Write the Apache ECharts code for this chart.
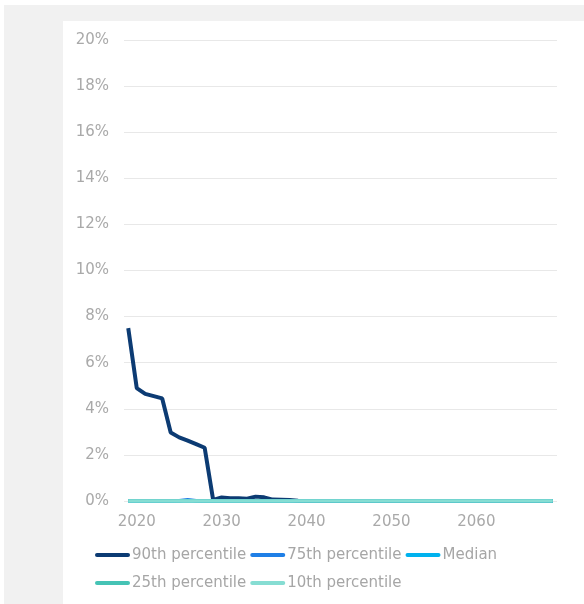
<!DOCTYPE html>
<html>
<head>
<meta charset="utf-8">
<script src="https://cdn.jsdelivr.net/npm/echarts@6/dist/echarts.min.js"></script>
<style>
  body { margin: 0; background: #fff; }
  #frame { position: absolute; left: 4px; top: 5px; width: 580px; height: 599px; background: #f1f1f1; }
  #renderChart { position: absolute; left: 63px; top: 21px; width: 521px; height: 583px; background: #fff; }
</style>
</head>
<body>
<div id="frame"></div>
<div id="renderChart"></div>
<script>
// years on the x axis
const years = [
  '2019', '2020', '2021', '2022', '2023', '2024', '2025', '2026', '2027', '2028',
  '2029', '2030', '2031', '2032', '2033', '2034', '2035', '2036', '2037', '2038',
  '2039', '2040', '2041', '2042', '2043', '2044', '2045', '2046', '2047', '2048',
  '2049', '2050', '2051', '2052', '2053', '2054', '2055', '2056', '2057', '2058',
  '2059', '2060', '2061', '2062', '2063', '2064', '2065', '2066', '2067', '2068',
  '2069'
];

// values in percent
const p90 = [
  7.5, 4.9, 4.65, 4.55, 4.45, 2.97, 2.76, 2.62, 2.47, 2.31,
  0.05, 0.15, 0.12, 0.12, 0.1, 0.19, 0.16, 0.06, 0.05, 0.04,
  0.01, 0, 0, 0, 0, 0, 0, 0, 0, 0,
  0, 0, 0, 0, 0, 0, 0, 0, 0, 0,
  0, 0, 0, 0, 0, 0, 0, 0, 0, 0,
  0
];
const p75 = [
  0, 0, 0, 0, 0, 0, 0.01, 0.05, 0.01, 0,
  0, 0, 0, 0, 0, 0, 0, 0, 0, 0,
  0, 0, 0, 0, 0, 0, 0, 0, 0, 0,
  0, 0, 0, 0, 0, 0, 0, 0, 0, 0,
  0, 0, 0, 0, 0, 0, 0, 0, 0, 0,
  0
];
const median = [
  0, 0, 0, 0, 0, 0, 0, 0, 0, 0,
  0, 0, 0, 0, 0, 0, 0, 0, 0, 0,
  0, 0, 0, 0, 0, 0, 0, 0, 0, 0,
  0, 0, 0, 0, 0, 0, 0, 0, 0, 0,
  0, 0, 0, 0, 0, 0, 0, 0, 0, 0,
  0
];
const p25 = [
  0, 0, 0, 0, 0, 0, 0, 0, 0, 0,
  0, 0, 0, 0, 0, 0, 0, 0, 0, 0,
  0, 0, 0, 0, 0, 0, 0, 0, 0, 0,
  0, 0, 0, 0, 0, 0, 0, 0, 0, 0,
  0, 0, 0, 0, 0, 0, 0, 0, 0, 0,
  0
];
const p10 = [
  0, 0, 0, 0, 0, 0, 0, 0, 0, 0,
  0, 0, 0, 0, 0, 0, 0, 0, 0, 0,
  0, 0, 0, 0, 0, 0, 0, 0, 0, 0,
  0, 0, 0, 0, 0, 0, 0, 0, 0, 0,
  0, 0, 0, 0, 0, 0, 0, 0, 0, 0,
  0
];

const names = ['90th percentile', '75th percentile', 'Median', '25th percentile', '10th percentile'];
const colors = ['#0c3b73', '#1f7fe6', '#00b2ee', '#45c3b5', '#86ddd3'];
const values = [p90, p75, median, p25, p10];

const font = '"DejaVu Sans", Verdana, sans-serif';
const lineIcon = 'path://M2,0 L33,0 A2,2 0 0 1 33,4 L2,4 A2,2 0 0 1 2,0 Z';

const myChart = echarts.init(document.getElementById('renderChart'));

myChart.setOption({
  animation: false,
  color: colors,
  grid: { left: 61, right: 27, top: 19, bottom: 103 },
  legend: {
    left: 32,
    top: 522,
    width: 425,
    padding: 0,
    itemWidth: 35,
    itemHeight: 4,
    itemGap: 4,
    icon: lineIcon,
    textStyle: { fontFamily: font, fontSize: 15, color: '#a6a6a6', lineHeight: 24, padding: [0, 0, 0, -3] },
    data: names
  },
  xAxis: {
    type: 'category',
    data: years,
    boundaryGap: true,
    axisLine: { show: false },
    axisTick: { show: false },
    axisLabel: {
      margin: 14,
      fontFamily: font,
      fontSize: 15,
      color: '#a9a9a9',
      interval: (i, v) => Number(v) % 10 === 0
    }
  },
  yAxis: {
    type: 'value',
    min: 0,
    max: 20,
    interval: 2,
    axisLine: { show: false },
    axisTick: { show: false },
    axisLabel: {
      margin: 15,
      fontFamily: font,
      fontSize: 15,
      color: '#a9a9a9',
      formatter: '{value}%'
    },
    splitLine: { lineStyle: { color: '#e8e8e8', width: 1 } }
  },
  series: names.map((n, i) => ({
    name: n,
    type: 'line',
    data: values[i],
    symbol: 'none',
    lineStyle: { width: i === 0 ? 4 : 3.5, color: colors[i] }
  }))
});
</script>
</body>
</html>
